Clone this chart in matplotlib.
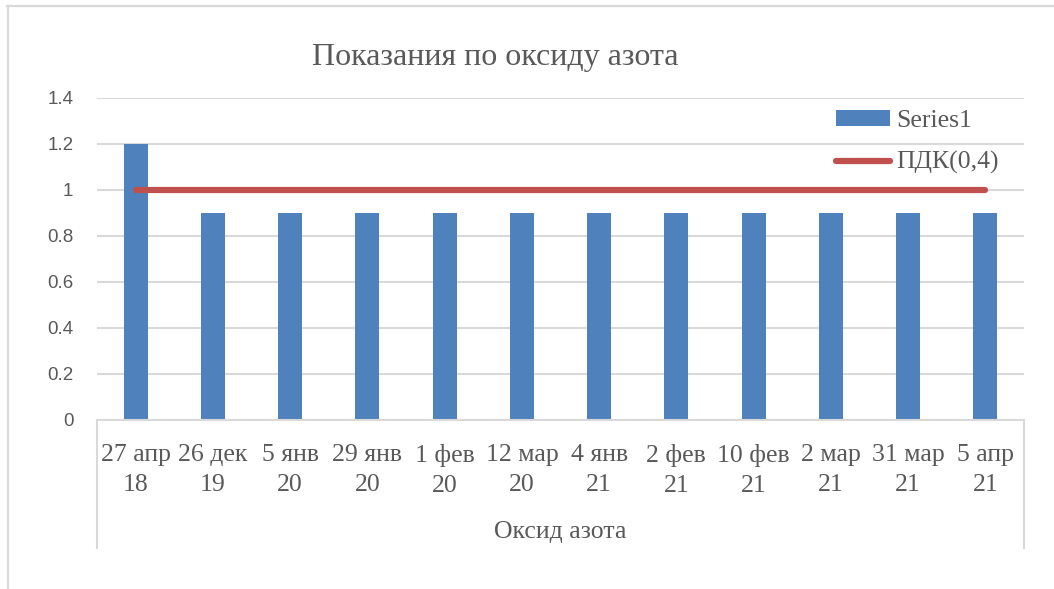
import matplotlib.pyplot as plt
import matplotlib.transforms as mtransforms
import numpy as np

# data
dates = ["27 апр\n18", "26 дек\n19", "5 янв\n20", "29 янв\n20", "1 фев\n20", "12 мар\n20",
         "4 янв\n21", "2 фев\n21", "10 фев\n21", "2 мар\n21", "31 мар\n21", "5 апр\n21"]
series1 = [1.2, 0.9, 0.9, 0.9, 0.9, 0.9, 0.9, 0.9, 0.9, 0.9, 0.9, 0.9]
pdk = [1.0, 1.0, 1.0, 1.0, 1.0, 1.0, 1.0, 1.0, 1.0, 1.0, 1.0, 1.0]
yticks = [0, 0.2, 0.4, 0.6, 0.8, 1, 1.2, 1.4]
ytick_labels = ["0", "0.2", "0.4", "0.6", "0.8", "1", "1.2", "1.4"]

text_col = "#595959"
grid_col = "#D9D9D9"
serif = "Liberation Serif"

W, H = 1054, 589
fig = plt.figure(figsize=(W / 100, H / 100), dpi=100)
ax = fig.add_axes([97 / W, (H - 420) / H, 927 / W, 322 / H])

x = np.arange(len(dates))
bars = ax.bar(x, series1, width=0.31, color="#4F81BD", label="Series1", zorder=2)
line, = ax.plot(x, pdk, color="#C0504D", linewidth=4.5, solid_capstyle="round",
                label="ПДК(0,4)", zorder=3)

#configure axes
ax.set_xlim(-0.5, len(dates) - 0.5)
ax.set_ylim(0, 1.4)
ax.set_yticks(yticks)
ax.set_yticklabels(ytick_labels, fontfamily="Liberation Sans", fontsize=13.5, color=text_col)
ax.set_xticks(x)
ax.set_xticklabels(dates, fontfamily=serif, fontsize=18.5, color=text_col,
                   linespacing=1.5)
ax.tick_params(axis="both", length=0)
ax.tick_params(axis="y", pad=17)
ax.tick_params(axis="x", pad=17)
ax.grid(axis="y", color=grid_col, linewidth=1.5, zorder=0)
for s in ["top", "right", "left"]:
    ax.spines[s].set_visible(False)
ax.spines["bottom"].set_color(grid_col)
ax.spines["bottom"].set_linewidth(1.5)

# category box lines below axis
tr = mtransforms.blended_transform_factory(ax.transData, fig.transFigure)
for xv in [-0.5, len(dates) - 0.5]:
    ax.plot([xv, xv], [(H - 420) / H, (H - 548) / H], transform=tr,
            color=grid_col, linewidth=1.5, clip_on=False)

fig.text(560 / W, 1 - 532 / H, "Оксид азота", fontfamily=serif, fontsize=18.5,
         color=text_col, ha="center", va="center")

#title
fig.text(495 / W, 1 - 57 / H, "Показания по оксиду азота", fontfamily=serif,
         fontsize=23, color=text_col, ha="center", va="center")

#legend
ax.legend([bars, line], ["Series1", "ПДК(0,4)"], loc="upper left",
          bbox_to_anchor=(836 / W, 1 - 110 / H), bbox_transform=fig.transFigure,
          frameon=False, prop={"family": serif, "size": 18.5}, labelcolor=text_col,
          handlelength=2.1, handletextpad=0.25, labelspacing=0.75, handleheight=0.55,
          borderaxespad=0, borderpad=0)

# chart border
fig.add_artist(plt.Line2D([7 / W, 1], [1 - 5.5 / H, 1 - 5.5 / H], transform=fig.transFigure,
                          color=grid_col, linewidth=1.6))
fig.add_artist(plt.Line2D([7.5 / W, 7.5 / W], [0, 1 - 5.5 / H], transform=fig.transFigure,
                          color=grid_col, linewidth=1.6))

fig.savefig("out.png", dpi=100)
